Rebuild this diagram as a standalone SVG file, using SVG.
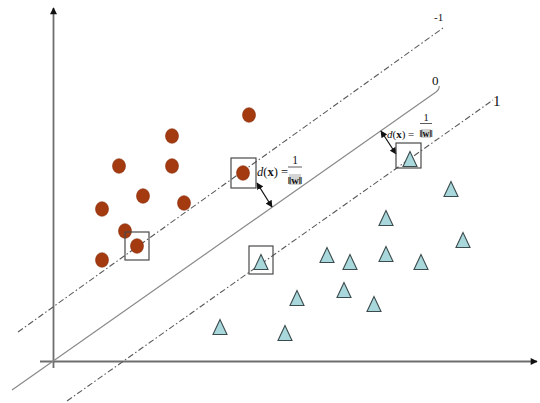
<svg xmlns="http://www.w3.org/2000/svg" xmlns:xlink="http://www.w3.org/1999/xlink" width="540" height="403" viewBox="0 0 540 403">
<style>
.axis{stroke:#6e6e6e;stroke-width:1.8;fill:none}
.hyp{stroke:#8a8a8a;stroke-width:1.2;fill:none}
.dd{stroke:#5a5a5a;stroke-width:1.1;stroke-dasharray:6 2.5 1.5 2.5}
.circ{fill:#a43a10;stroke:#8a2e0c;stroke-width:0.6}
.tri{fill:#a9d8dc;stroke:#3c4c4e;stroke-width:1.1}
.box{fill:none;stroke:#4a4a4a;stroke-width:1.2}
.dist{stroke:#111;stroke-width:1.2;fill:none}
text{font-family:"Liberation Serif",serif;fill:#111111}
</style>
<defs>
<marker id="ah" viewBox="0 0 10 10" refX="9" refY="5" markerWidth="7" markerHeight="7" markerUnits="userSpaceOnUse" orient="auto-start-reverse"><path d="M0,0 L10,5 L0,10 z" fill="#111"/></marker>
<marker id="axh" viewBox="0 0 10 10" refX="9" refY="5" markerWidth="8" markerHeight="7" markerUnits="userSpaceOnUse" orient="auto"><path d="M0,0 L10,5 L0,10 z" fill="#111"/></marker>
<path id="tri" d="M0,-7.5 L-7,7.5 L7,7.5 z"/>
</defs>

<g id="connectors">
<line id="y-axis" class="axis" x1="53.5" y1="368" x2="53.5" y2="8" marker-end="url(#axh)"/>
<line id="x-axis" class="axis" x1="40" y1="361.5" x2="537" y2="361.5" marker-end="url(#axh)"/>
<line id="margin-neg" class="hyp dd" x1="18" y1="332" x2="443" y2="28"/>
<path id="hyperplane" class="hyp" d="M12,390 L436,92 Q440,89 439,86"/>
<line id="margin-pos" class="hyp dd" x1="67" y1="401" x2="493" y2="100"/>
<line id="dist1" class="dist" x1="257" y1="183" x2="272" y2="207" marker-start="url(#ah)" marker-end="url(#ah)"/>
<line id="dist2" class="dist" x1="381" y1="131" x2="396" y2="154" marker-start="url(#ah)" marker-end="url(#ah)"/>
</g>

<g id="line-labels">
<text x="434" y="21" font-size="11">-1</text>
<text x="432" y="85" font-size="13">0</text>
<text x="493" y="106" font-size="15">1</text>
</g>

<g id="class-a">
<ellipse id="c1" class="circ" cx="249" cy="115" rx="6.5" ry="7.3"/>
<ellipse id="c2" class="circ" cx="172" cy="136" rx="6.5" ry="7.3"/>
<ellipse id="c3" class="circ" cx="119" cy="166" rx="6.5" ry="7.3"/>
<ellipse id="c4" class="circ" cx="172" cy="166" rx="6.5" ry="7.3"/>
<ellipse id="c5" class="circ" cx="143" cy="196" rx="6.5" ry="7.3"/>
<ellipse id="c6" class="circ" cx="184" cy="203" rx="6.5" ry="7.3"/>
<ellipse id="c7" class="circ" cx="102" cy="209" rx="6.5" ry="7.3"/>
<ellipse id="c8" class="circ" cx="125" cy="231" rx="6.5" ry="7.3"/>
<ellipse id="c9" class="circ" cx="102" cy="260" rx="6.5" ry="7.3"/>
<g id="sv-c1"><rect class="box" x="125" y="232" width="24" height="28"/><ellipse class="circ" cx="137" cy="246" rx="6.5" ry="7.3"/></g>
<g id="sv-c2"><rect class="box" x="231" y="158" width="25" height="30"/><ellipse class="circ" cx="243" cy="173" rx="6.5" ry="7.3"/></g>
</g>

<g id="class-b">
<use id="t1" class="tri" xlink:href="#tri" x="451" y="189"/>
<use id="t2" class="tri" xlink:href="#tri" x="386" y="218"/>
<use id="t3" class="tri" xlink:href="#tri" x="463" y="240"/>
<use id="t4" class="tri" xlink:href="#tri" x="327" y="255"/>
<use id="t5" class="tri" xlink:href="#tri" x="350" y="262"/>
<use id="t6" class="tri" xlink:href="#tri" x="386" y="254"/>
<use id="t7" class="tri" xlink:href="#tri" x="421" y="262"/>
<use id="t8" class="tri" xlink:href="#tri" x="297" y="298"/>
<use id="t9" class="tri" xlink:href="#tri" x="344" y="290"/>
<use id="t10" class="tri" xlink:href="#tri" x="374" y="304"/>
<use id="t11" class="tri" xlink:href="#tri" x="220" y="327"/>
<use id="t12" class="tri" xlink:href="#tri" x="285" y="333"/>
<g id="sv-t1"><rect class="box" x="249" y="246" width="24" height="28"/><use class="tri" xlink:href="#tri" x="261" y="262"/></g>
<g id="sv-t2"><rect class="box" x="396" y="143" width="25" height="25"/><use class="tri" xlink:href="#tri" x="410" y="159"/></g>
</g>

<g id="label-d1">
<text x="257" y="176" font-size="12.5"><tspan font-style="italic">d</tspan>(<tspan font-weight="bold">x</tspan>) =</text>
<text x="295" y="164" font-size="11.5" text-anchor="middle">1</text>
<line x1="288" y1="167" x2="302" y2="167" stroke="#333" stroke-width="0.8"/>
<rect x="289" y="174" width="12" height="11" fill="#d4d4d4"/>
<text x="295" y="184" font-size="10.5" font-weight="bold" text-anchor="middle">‖w‖</text>
</g>

<g id="label-d2">
<text x="387" y="138" font-size="11"><tspan font-style="italic">d</tspan>(<tspan font-weight="bold">x</tspan>) =</text>
<text x="426" y="121" font-size="10.5" text-anchor="middle">1</text>
<line x1="420" y1="123.5" x2="432" y2="123.5" stroke="#333" stroke-width="0.8"/>
<rect x="421" y="129" width="10" height="9" fill="#d4d4d4"/>
<text x="426" y="137" font-size="9.5" font-weight="bold" text-anchor="middle">‖w‖</text>
</g>
</svg>
